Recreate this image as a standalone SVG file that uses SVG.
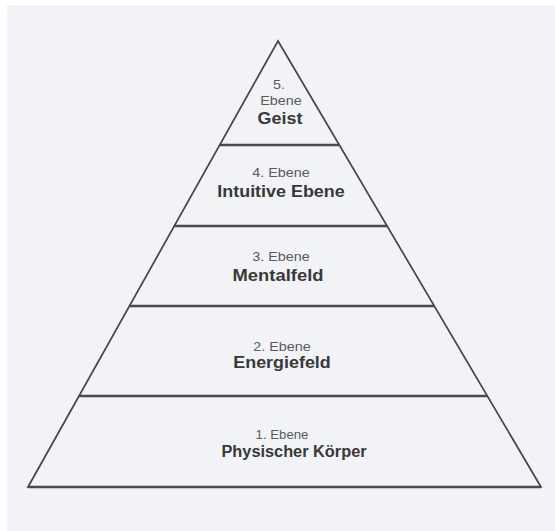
<svg xmlns="http://www.w3.org/2000/svg" width="555" height="531" viewBox="0 0 555 531">
  <style>
    .edge { fill: none; stroke: #454545; stroke-width: 1.7; stroke-linejoin: miter; }
    .div { stroke: #4a4a4a; stroke-width: 2.4; }
    .lbl { font-family: "Liberation Sans", Arial, sans-serif; font-size: 12px; fill: #5a5a5a; text-anchor: middle; }
    .ttl { font-family: "Liberation Sans", Arial, sans-serif; font-size: 16px; font-weight: bold; fill: #383838; text-anchor: middle; }
  </style>
  <rect x="0" y="0" width="555" height="531" fill="#ffffff"/>
  <rect x="7" y="5" width="548" height="526" fill="#f1f3f7"/>

  <g id="pyramid-outline">
    <polygon class="edge" points="278,41 541,487 28,487"/>
    <line class="div" x1="28" y1="487" x2="541" y2="487"/>
  </g>

  <g id="connectors">
    <line class="div" x1="219.7" y1="145" x2="339.3" y2="145"/>
    <line class="div" x1="174.3" y1="226" x2="387.1" y2="226"/>
    <line class="div" x1="129.5" y1="306" x2="434.3" y2="306"/>
    <line class="div" x1="79" y1="396" x2="487.3" y2="396"/>
  </g>

  <g id="level5">
    <text class="lbl" transform="translate(279,89) scale(1.2,1)">5.</text>
    <text class="lbl" transform="translate(281,105) scale(1.2,1)">Ebene</text>
    <text class="ttl" transform="translate(280,124) scale(1.12,1)">Geist</text>
  </g>

  <g id="level4">
    <text class="lbl" transform="translate(281,176.5) scale(1.2,1)">4. Ebene</text>
    <text class="ttl" transform="translate(281,197) scale(1.12,1)">Intuitive Ebene</text>
  </g>

  <g id="level3">
    <text class="lbl" transform="translate(281,260.5) scale(1.2,1)">3. Ebene</text>
    <text class="ttl" transform="translate(278,281) scale(1.15,1)">Mentalfeld</text>
  </g>

  <g id="level2">
    <text class="lbl" transform="translate(282,350.5) scale(1.2,1)">2. Ebene</text>
    <text class="ttl" transform="translate(282,368) scale(1.12,1)">Energiefeld</text>
  </g>

  <g id="level1">
    <text class="lbl" transform="translate(282,439) scale(1.1,1)">1. Ebene</text>
    <text class="ttl" transform="translate(294,457) scale(1.02,1)">Physischer Körper</text>
  </g>
</svg>
